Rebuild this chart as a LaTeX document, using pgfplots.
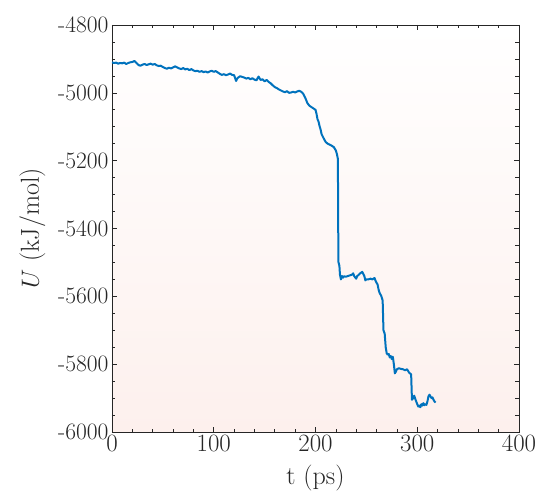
\documentclass[border=0pt]{standalone}
\usepackage{pgfplots}
\pgfplotsset{compat=1.18}
\usetikzlibrary{calc}
\definecolor{mblue}{RGB}{0,114,189}
\definecolor{axgray}{RGB}{38,38,38}
\definecolor{bgbot}{RGB}{253,240,237}
\begin{document}
\begin{tikzpicture}
\begin{axis}[name=ax, scale only axis, width=407pt, height=407pt,
    xmin=0, xmax=400, ymin=-6000, ymax=-4800,
    xtick={0,100,...,400}, minor x tick num=4,
    ytick={-6000,-5800,...,-4800},
    yticklabels={-6000,-5800,-5600,-5400,-5200,-5000,-4800},
    minor y tick num=3,
    tick align=inside, major tick length=5pt, minor tick length=3.5pt,
    axis line style={axgray, line width=0.8pt},
    every tick/.style={axgray, line width=0.6pt},
    tick label style={font=\fontsize{23.5}{26}\selectfont, text=axgray},
    label style={font=\fontsize{26}{30}\selectfont, text=axgray},
    xlabel={t (ps)}, ylabel={$U$ (kJ/mol)},
    xlabel style={yshift=-7pt}, ylabel style={yshift=6pt},
    axis background/.style={top color=white, bottom color=bgbot},
  ]
  \addplot[mblue, line width=2pt, mark=none, line join=round] coordinates {
    (0,-4910) (2,-4912) (4,-4911) (6,-4914) (8,-4912) (10,-4913) (12,-4911)
    (14,-4915) (16,-4912) (18,-4910) (20,-4909) (22,-4906) (24,-4912) (26,-4918)
    (28,-4920) (30,-4917) (32,-4915) (34,-4918) (36,-4916) (38,-4914) (40,-4917)
    (42,-4915) (44,-4919) (46,-4921) (48,-4920) (50,-4924) (52,-4927) (54,-4929)
    (56,-4926) (58,-4928) (60,-4925) (62,-4922) (64,-4925) (66,-4928) (68,-4930)
    (70,-4927) (72,-4931) (74,-4929) (76,-4933) (78,-4930) (80,-4934) (82,-4936)
    (84,-4935) (86,-4938) (88,-4936) (90,-4939) (92,-4937) (94,-4940) (96,-4937)
    (98,-4935) (100,-4938) (102,-4936) (104,-4940) (106,-4944) (108,-4947)
    (110,-4945) (112,-4948) (114,-4946) (116,-4943) (118,-4947) (120,-4948)
    (122,-4965) (123,-4958) (124,-4955) (126,-4951) (128,-4953) (130,-4955)
    (132,-4958) (134,-4956) (136,-4960) (138,-4957) (140,-4961) (142,-4963)
    (144,-4952) (146,-4962) (148,-4960) (150,-4966) (152,-4962) (154,-4968)
    (156,-4972) (158,-4978) (160,-4983) (162,-4986) (164,-4990) (166,-4993)
    (168,-4996) (170,-4998) (172,-4995) (174,-5000) (176,-4999) (178,-4997)
    (180,-4999) (182,-4996) (184,-4994) (186,-4997) (188,-5003) (190,-5015)
    (192,-5030) (194,-5038) (196,-5042) (198,-5046) (200,-5050) (201,-5062)
    (202,-5078) (203,-5085) (204,-5098) (205,-5108) (206,-5122) (208,-5134)
    (210,-5145) (212,-5150) (214,-5153) (216,-5156) (218,-5160) (220,-5170)
    (221,-5180) (222,-5195) (222.5,-5498) (223.5,-5510) (224,-5535) (225,-5550)
    (226,-5540) (227,-5545) (228,-5541) (230,-5542) (232,-5540) (234,-5538)
    (236,-5536) (237,-5532) (238,-5540) (240,-5548) (241,-5540) (242,-5538)
    (244,-5532) (246,-5528) (248,-5540) (249,-5553) (250,-5550) (252,-5550)
    (254,-5548) (256,-5550) (258,-5546) (259,-5554) (260,-5560) (261,-5565)
    (262,-5580) (263,-5590) (264.5,-5598) (266,-5612) (266.8,-5700) (268,-5710)
    (269,-5750) (270,-5768) (271,-5772) (272,-5770) (273,-5780) (274,-5776)
    (275,-5785) (276,-5778) (277,-5800) (278,-5827) (279,-5822) (280,-5815)
    (282,-5812) (284,-5814) (286,-5815) (288,-5818) (290,-5815) (291,-5820)
    (292,-5825) (294,-5830) (294.8,-5905) (296,-5900) (297,-5893) (298,-5902)
    (299,-5910) (300,-5918) (301,-5925) (302,-5922) (303,-5927) (304,-5918)
    (305,-5922) (306,-5915) (307,-5921) (308,-5918) (309,-5920) (310,-5910)
    (311,-5895) (312,-5890) (313,-5895) (314,-5900) (315,-5898) (316,-5905)
    (317,-5910) (318,-5913)
  };
\end{axis}
\pgfresetboundingbox
\path ($(ax.south west)+(-112pt,-69pt)$) rectangle ($(ax.north east)+(24pt,25pt)$);
\end{tikzpicture}
\end{document}
